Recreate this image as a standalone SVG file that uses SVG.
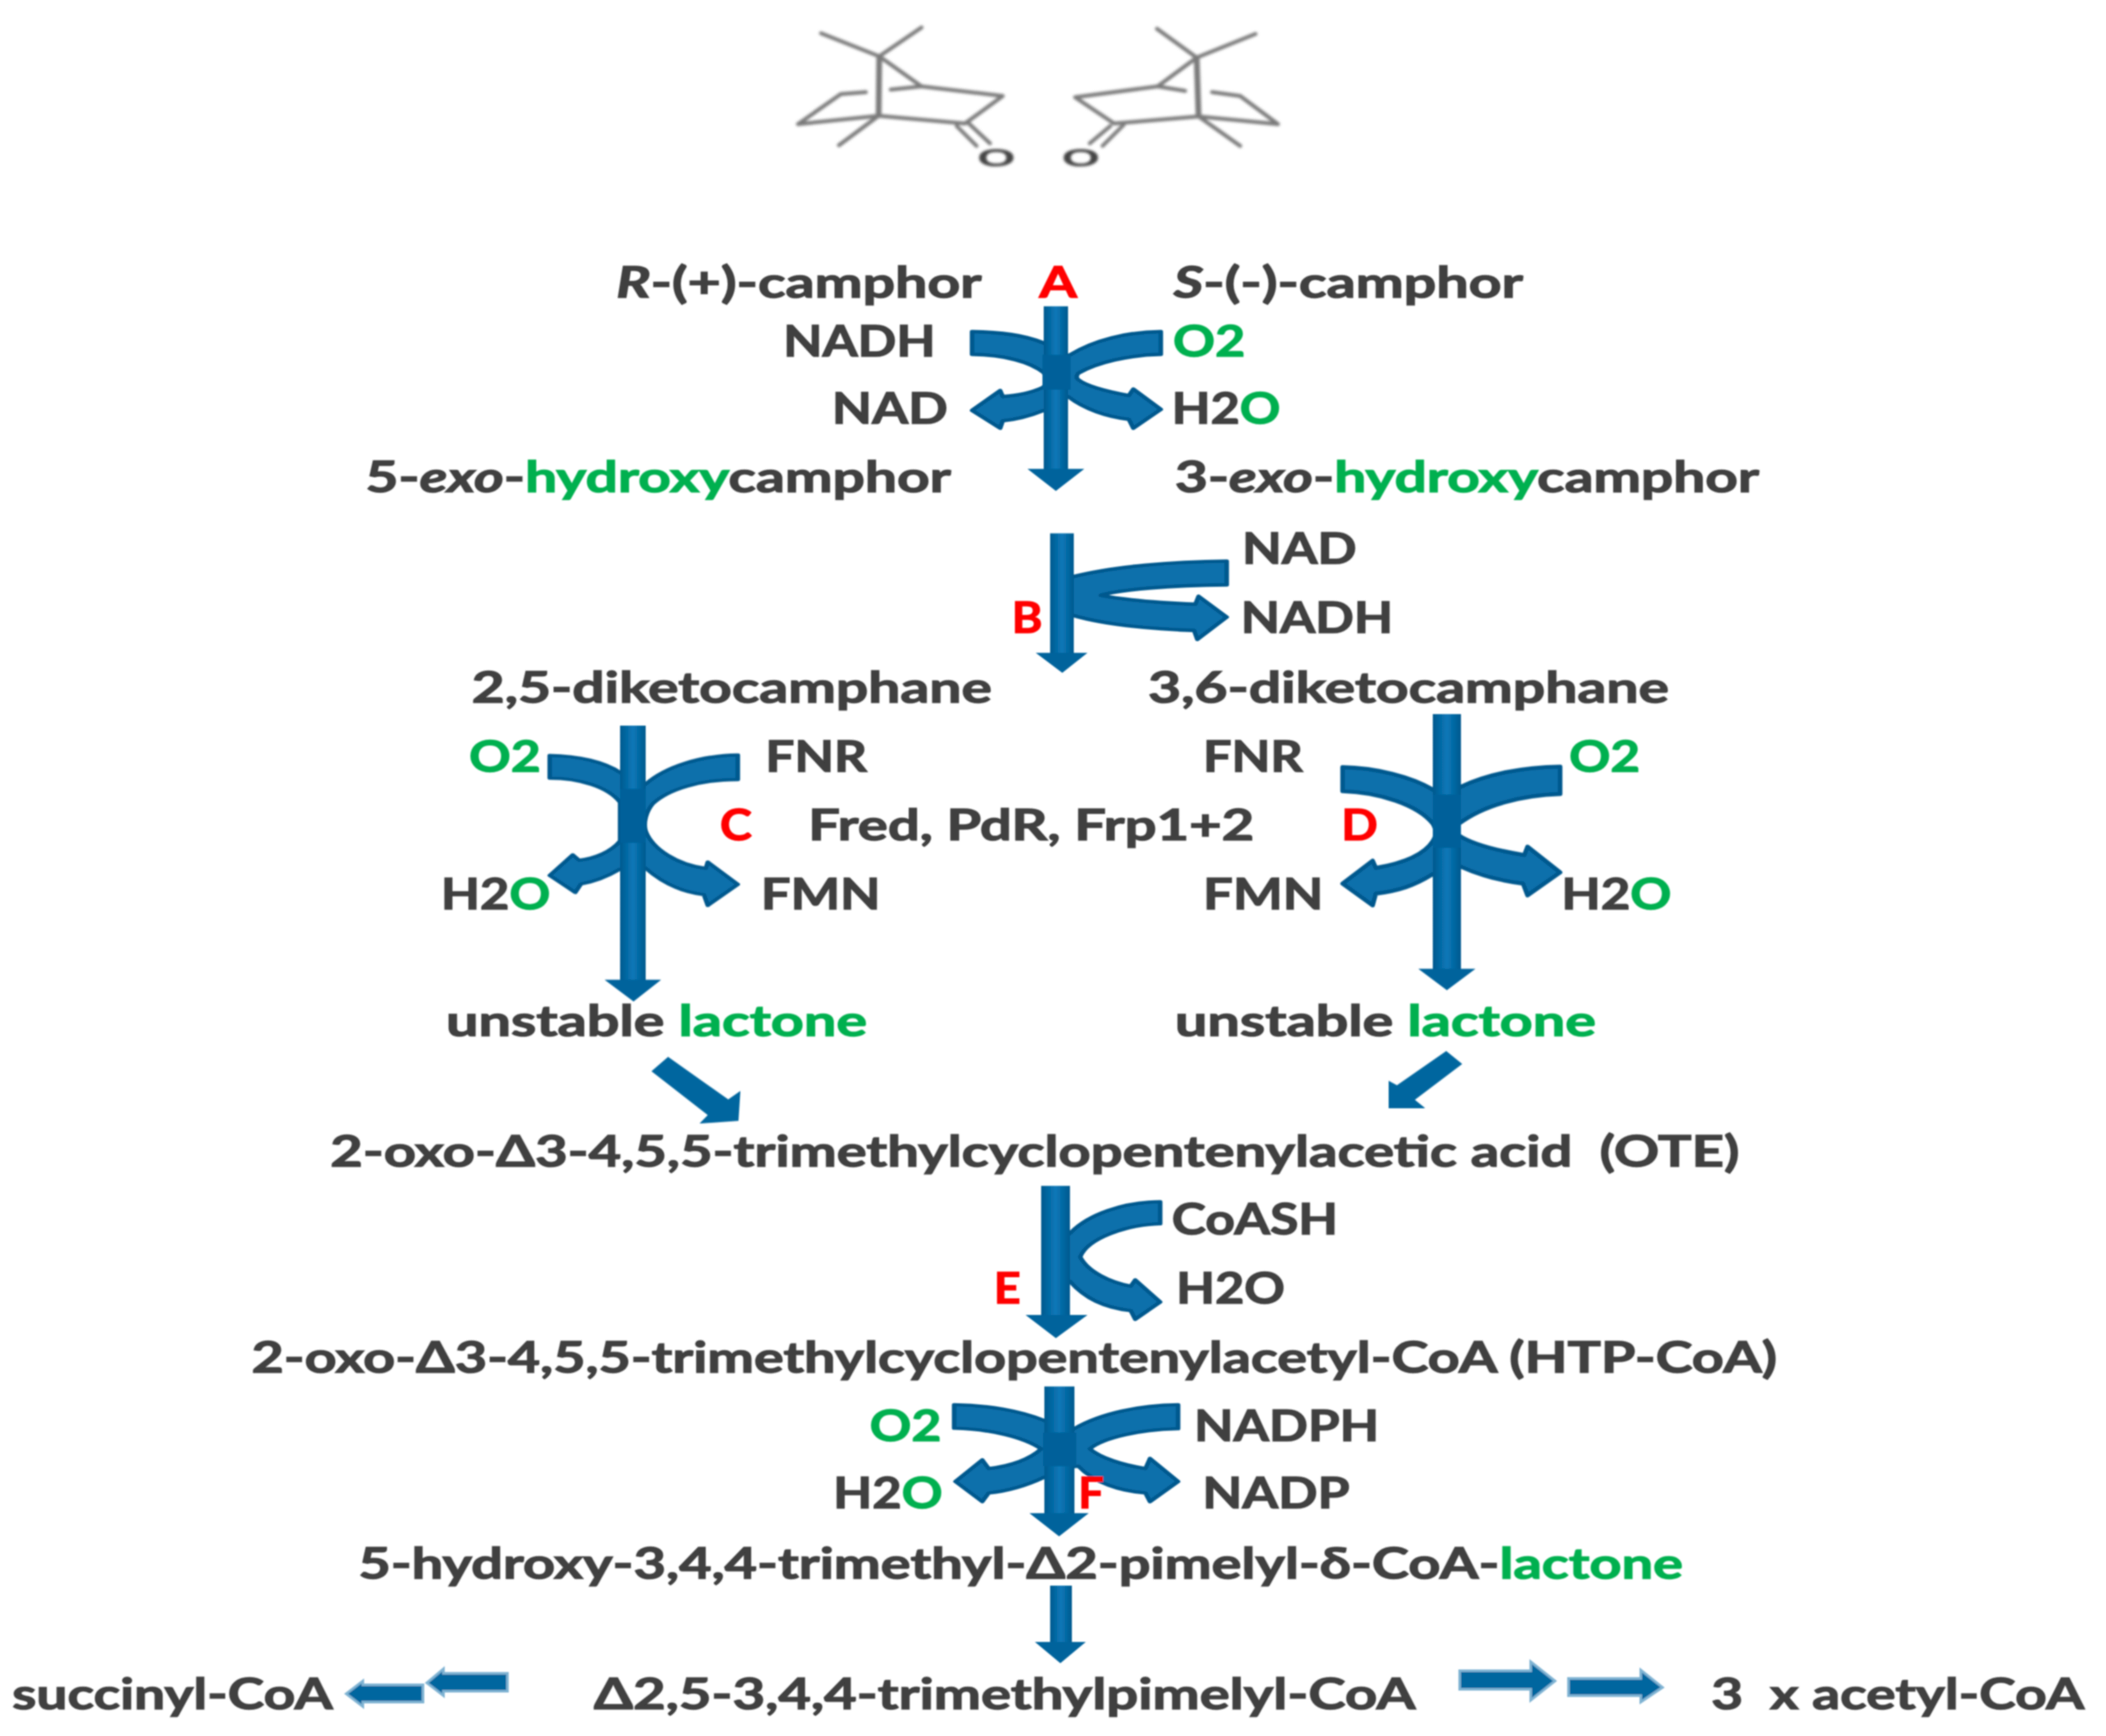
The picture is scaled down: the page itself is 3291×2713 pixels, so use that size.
<svg xmlns="http://www.w3.org/2000/svg" width="3291" height="2713" viewBox="0 0 3291 2713">
<style>
text{font-family:"Lato","Noto Sans","DejaVu Sans",sans-serif;font-weight:700;font-size:66px;fill:#3f3f3f;stroke:#3f3f3f;stroke-width:1.6;white-space:pre}
.g,tspan.g{fill:#00b050;stroke:#00b050}
.r{fill:#ff0000;stroke:#ff0000}
tspan.i{font-style:italic}
.w{fill:#0a6fab;stroke:#00598e;stroke-width:7;stroke-linejoin:round}
.s{fill:url(#shaft)}
.h{fill:#00639c;stroke:#00639c;stroke-width:2}
.c{fill:#00609a}
.f{fill:#05669f}
.fb{fill:#05669f;stroke:#7fb3d3;stroke-width:4}
.b{fill:none;stroke:#7a7a7a;stroke-width:6;stroke-linecap:round;stroke-linejoin:round}
.bt{fill:none;stroke:#7a7a7a;stroke-width:9}
text.o{font-family:"Liberation Sans",sans-serif;font-weight:700;font-size:38px;fill:#444;stroke:none}
</style>
<defs>
<linearGradient id="shaft"><stop offset="0" stop-color="#00598e"/><stop offset=".5" stop-color="#0a78b8"/><stop offset="1" stop-color="#00598e"/></linearGradient>
<filter id="soft" filterUnits="userSpaceOnUse" x="0" y="0" width="3291" height="2713"><feGaussianBlur stdDeviation="1.3"/></filter>
<filter id="softer" filterUnits="userSpaceOnUse" x="0" y="0" width="3291" height="2713"><feGaussianBlur stdDeviation="2.2"/></filter>
</defs>
<rect width="3291" height="2713" fill="#fff"/>
<g id="camphor-structures" filter="url(#softer)">
<g id="r-camphor">
<path class="b" d="M1283,52L1374,88L1440,43M1374,88L1440,135M1392,140L1440,135L1567,150L1508,193L1373,181M1353,144L1314,147L1247,194L1373,181L1311,227M1495,197L1526,228M1514,193L1547,224"/>
<path class="bt" d="M1374,88L1373,181"/>
<text class="o" x="1527" y="260" textLength="60" lengthAdjust="spacingAndGlyphs">O</text>
</g>
<g id="s-camphor">
<path class="b" d="M1808,45L1870,90L1962,53M1870,90L1809,135M1852,142L1809,135L1680,152L1741,193L1873,182M1894,144L1938,150L1997,194L1873,182L1938,228M1735,197L1703,224M1756,195L1723,228"/>
<path class="bt" d="M1870,90L1873,182"/>
<text class="o" x="1659" y="260" textLength="60" lengthAdjust="spacingAndGlyphs">O</text>
</g>
</g>
<g filter="url(#soft)">
<g id="connectors">
<g id="arrows-a-b" transform="matrix(1 0 0 .7747 0 101.4)">
<path class="w" d="M1519,538C1565,539 1600,545 1629,560L1650,573L1650,703L1631,697C1610,708 1590,715 1567,718L1563,733L1519,697L1563,657L1567,669C1590,667 1612,661 1629,651C1636,645 1636,631 1631,621C1610,599 1570,585 1519,584Z"/>
<path class="w" d="M1814,538C1760,539 1710,555 1672,585L1650,600L1650,680L1669,669C1695,695 1730,710 1764,715L1771,733L1814,695L1771,654L1764,667C1735,660 1700,650 1685,635Q1680,630 1685,622C1715,600 1765,585 1814,584Z"/>
<rect class="s" x="1631" y="487" width="38" height="332"/>
<path class="h" d="M1608,816H1692L1650,858Z"/>
<rect class="c" x="1629" y="585" width="44" height="70"/>
<path class="w" d="M1917,1001C1830,1002 1740,1012 1678,1032L1660,1040L1660,1105L1678,1111C1730,1130 1800,1138 1866,1141L1871,1159L1917,1114L1873,1072L1868,1088C1810,1085 1760,1080 1720,1070C1750,1058 1830,1050 1917,1049Z"/>
<rect class="s" x="1641" y="945" width="37" height="245"/>
<path class="h" d="M1621,1187H1697L1660,1225Z"/>
</g>
<g id="arrows-c" transform="matrix(1 0 0 .7 0 330)">
<path class="w" d="M859,1215C905,1216 945,1230 969,1253L990,1270L990,1480L969,1469C950,1485 930,1497 908,1502L899,1521L859,1483L895,1437L905,1449C930,1445 955,1430 969,1406L969,1320C950,1285 905,1266 859,1266Z"/>
<path class="w" d="M1153,1214C1095,1215 1040,1240 1009,1279L990,1290L990,1480L1009,1467C1035,1500 1065,1520 1100,1526L1106,1550L1153,1503L1106,1453L1103,1467C1060,1460 1020,1425 1009,1384C1005,1365 1010,1340 1020,1323C1045,1290 1095,1269 1153,1269Z"/>
<rect class="s" x="969" y="1148" width="40" height="572"/>
<path class="h" d="M947,1717H1031L990,1763Z"/>
<rect class="c" x="969" y="1290" width="40" height="120"/>
<path class="f" d="M1044,1888L1138,1983L1157,1964L1154,2031L1093,2037L1106,2018L1018,1920Z"/>
</g>
<g id="arrows-d" transform="matrix(1 0 0 .875 0 137.5)">
<path class="w" d="M2098,1213C2150,1214 2205,1230 2239,1253L2261,1270L2261,1410L2239,1404C2210,1425 2185,1434 2150,1439L2145,1460L2098,1421L2145,1380L2150,1393C2190,1385 2225,1370 2239,1345C2245,1335 2245,1325 2239,1314C2215,1280 2155,1258 2098,1256Z"/>
<path class="w" d="M2438,1212C2380,1213 2325,1225 2283,1248L2261,1262L2261,1400L2283,1391C2310,1405 2345,1416 2380,1421L2387,1442L2438,1401L2387,1355L2382,1370C2340,1362 2300,1350 2280,1335C2275,1328 2275,1322 2280,1314C2320,1280 2380,1263 2438,1261Z"/>
<rect class="s" x="2239" y="1118" width="44" height="459"/>
<path class="h" d="M2219,1574H2303L2261,1610Z"/>
<rect class="c" x="2239" y="1262" width="44" height="95"/>
<path class="f" d="M2260,1720L2285,1743L2211,1807L2227,1822L2170,1822L2170,1773L2183,1781Z"/>
</g>
<g id="arrows-e-f" transform="matrix(1 0 0 .75 0 457.5)">
<path class="w" d="M1813,1894C1755,1895 1700,1920 1672,1960L1650,1975L1650,2070L1672,2060C1695,2095 1725,2115 1767,2121L1774,2139L1813,2103L1774,2057L1767,2070C1735,2062 1700,2040 1688,2009C1700,1970 1760,1942 1813,1940Z"/>
<rect class="s" x="1627" y="1861" width="45" height="273"/>
<path class="h" d="M1605,2131H1697L1650,2177Z"/>
<path class="w" d="M1491,2317C1545,2318 1595,2330 1632,2350L1655,2365L1655,2475L1632,2468C1605,2485 1575,2497 1545,2501L1535,2519L1493,2477L1535,2432L1545,2450C1580,2445 1610,2430 1627,2409C1600,2385 1550,2368 1491,2366Z"/>
<path class="w" d="M1841,2317C1780,2318 1720,2335 1680,2366L1655,2385L1655,2450L1685,2445C1710,2480 1750,2497 1790,2501L1797,2519L1841,2477L1797,2429L1790,2450C1755,2443 1720,2428 1703,2409C1725,2385 1785,2368 1841,2367Z"/>
<rect class="s" x="1632" y="2279" width="47" height="268"/>
<path class="h" d="M1611,2544H1699L1655,2590Z"/>
<rect class="c" x="1630" y="2375" width="52" height="70"/>
</g>
<g id="arrows-bottom">
<rect class="s" x="1641" y="2478" width="34" height="92"/>
<path class="h" d="M1620,2567H1694L1657,2598Z"/>
<path class="fb" d="M793,2615H693V2608L667,2630L693,2650V2643H793Z"/>
<path class="fb" d="M661,2633H567V2627L541,2647L567,2667V2660H661Z"/>
<path class="fb" d="M2281,2611H2392V2597L2430,2627L2392,2657V2640H2281Z"/>
<path class="fb" d="M2451,2623H2564V2610L2598,2637L2564,2660V2650H2451Z"/>
</g>
</g>
<g id="node-camphor">
<text x="963" y="465" textLength="571" lengthAdjust="spacingAndGlyphs"><tspan class="i">R</tspan>-(+)-camphor</text>
<text x="1834" y="465" textLength="546" lengthAdjust="spacingAndGlyphs"><tspan class="i">S</tspan>-(-)-camphor</text>
</g>
<g id="label-a"><text class="r" x="1624" y="465" textLength="59" lengthAdjust="spacingAndGlyphs">A</text></g>
<g id="cofactors-a">
<text x="1224" y="557" textLength="238" lengthAdjust="spacingAndGlyphs">NADH</text>
<text class="g" x="1833" y="557" textLength="113" lengthAdjust="spacingAndGlyphs">O2</text>
<text x="1300" y="662" textLength="181" lengthAdjust="spacingAndGlyphs">NAD</text>
<text x="1831" y="662" textLength="170" lengthAdjust="spacingAndGlyphs">H2<tspan class="g">O</tspan></text>
</g>
<g id="node-hydroxycamphor">
<text x="571" y="769" textLength="915" lengthAdjust="spacingAndGlyphs">5-<tspan class="i">exo</tspan>-<tspan class="g">hydroxy</tspan>camphor</text>
<text x="1836" y="769" textLength="913" lengthAdjust="spacingAndGlyphs">3-<tspan class="i">exo</tspan>-<tspan class="g">hydroxy</tspan>camphor</text>
</g>
<g id="cofactors-b">
<text x="1941" y="881" textLength="179" lengthAdjust="spacingAndGlyphs">NAD</text>
<text x="1939" y="989" textLength="238" lengthAdjust="spacingAndGlyphs">NADH</text>
<text class="r" x="1581" y="989" textLength="48" lengthAdjust="spacingAndGlyphs">B</text>
</g>
<g id="node-diketocamphane">
<text x="737" y="1098" textLength="813" lengthAdjust="spacingAndGlyphs">2,5-diketocamphane</text>
<text x="1794" y="1098" textLength="814" lengthAdjust="spacingAndGlyphs">3,6-diketocamphane</text>
</g>
<g id="cofactors-c">
<text class="g" x="733" y="1206" textLength="112" lengthAdjust="spacingAndGlyphs">O2</text>
<text x="1196" y="1206" textLength="159" lengthAdjust="spacingAndGlyphs">FNR</text>
<text class="r" x="1125" y="1313" textLength="50" lengthAdjust="spacingAndGlyphs">C</text>
<text x="689" y="1421" textLength="171" lengthAdjust="spacingAndGlyphs">H2<tspan class="g">O</tspan></text>
<text x="1189" y="1421" textLength="187" lengthAdjust="spacingAndGlyphs">FMN</text>
</g>
<g id="enzymes"><text x="1263" y="1313" textLength="697" lengthAdjust="spacingAndGlyphs">Fred, PdR, Frp1+2</text></g>
<g id="cofactors-d">
<text x="1880" y="1206" textLength="156" lengthAdjust="spacingAndGlyphs">FNR</text>
<text class="g" x="2452" y="1206" textLength="111" lengthAdjust="spacingAndGlyphs">O2</text>
<text class="r" x="2096" y="1313" textLength="57" lengthAdjust="spacingAndGlyphs">D</text>
<text x="1880" y="1421" textLength="188" lengthAdjust="spacingAndGlyphs">FMN</text>
<text x="2440" y="1421" textLength="172" lengthAdjust="spacingAndGlyphs">H2<tspan class="g">O</tspan></text>
</g>
<g id="node-lactone">
<text x="697" y="1619" textLength="658" lengthAdjust="spacingAndGlyphs">unstable <tspan class="g">lactone</tspan></text>
<text x="1836" y="1619" textLength="658" lengthAdjust="spacingAndGlyphs">unstable <tspan class="g">lactone</tspan></text>
</g>
<g id="node-ote"><text x="516" y="1823" textLength="2202" lengthAdjust="spacingAndGlyphs">2-oxo-Δ3-4,5,5-trimethylcyclopentenylacetic acid  (OTE)</text></g>
<g id="cofactors-e">
<text x="1831" y="1929" textLength="260" lengthAdjust="spacingAndGlyphs">CoASH</text>
<text x="1838" y="2037" textLength="170" lengthAdjust="spacingAndGlyphs">H2O</text>
<text class="r" x="1553" y="2037" textLength="42" lengthAdjust="spacingAndGlyphs">E</text>
</g>
<g id="node-htp"><text x="393" y="2145" textLength="2384" lengthAdjust="spacingAndGlyphs">2-oxo-Δ3-4,5,5-trimethylcyclopentenylacetyl-CoA (HTP-CoA)</text></g>
<g id="cofactors-f">
<text class="g" x="1359" y="2252" textLength="112" lengthAdjust="spacingAndGlyphs">O2</text>
<text x="1866" y="2252" textLength="289" lengthAdjust="spacingAndGlyphs">NADPH</text>
<text x="1302" y="2357" textLength="171" lengthAdjust="spacingAndGlyphs">H2<tspan class="g">O</tspan></text>
<text x="1879" y="2357" textLength="230" lengthAdjust="spacingAndGlyphs">NADP</text>
<text class="r" x="1685" y="2357" textLength="40" lengthAdjust="spacingAndGlyphs">F</text>
</g>
<g id="node-pimelyl-lactone"><text x="560" y="2467" textLength="2070" lengthAdjust="spacingAndGlyphs">5-hydroxy-3,4,4-trimethyl-Δ2-pimelyl-δ-CoA-<tspan class="g">lactone</tspan></text></g>
<g id="node-succinyl"><text x="19" y="2671" textLength="501" lengthAdjust="spacingAndGlyphs">succinyl-CoA</text></g>
<g id="node-pimelyl"><text x="928" y="2671" textLength="1284" lengthAdjust="spacingAndGlyphs">Δ2,5-3,4,4-trimethylpimelyl-CoA</text></g>
<g id="node-acetyl"><text x="2674" y="2671" textLength="583" lengthAdjust="spacingAndGlyphs">3  x acetyl-CoA</text></g>
</g>
</svg>
